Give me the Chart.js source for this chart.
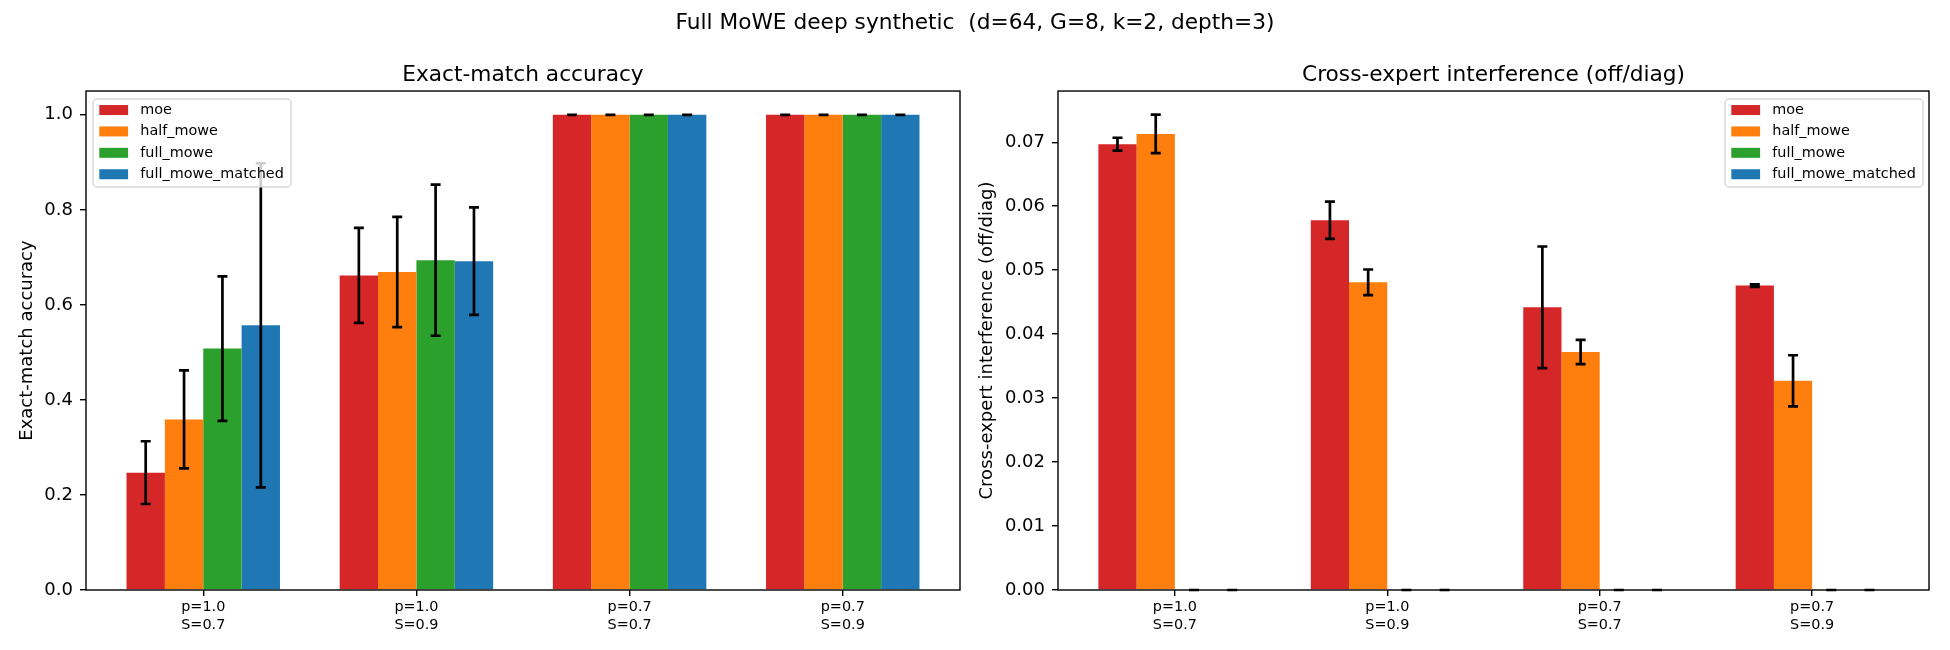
<!DOCTYPE html>
<html>
<head>
<meta charset="utf-8">
<script src="https://cdn.jsdelivr.net/npm/chart.js@4.4.0/dist/chart.umd.min.js"></script>
<style>
  body { margin: 0; background: #fff; width: 1950px; height: 650px; overflow: hidden; position: relative; font-family: "DejaVu Sans"; }
  #sup { position: absolute; left: 0; top: 9px; width: 1950px; text-align: center; font-size: 21.7px; line-height: 26px; color: #000; z-index: 2; }
  #c1 { position: absolute; left: 0; top: 0; }
  #c2 { position: absolute; left: 970px; top: 0; }
</style>
</head>
<body>
<div id="sup">Full MoWE deep synthetic&nbsp; (d=64, G=8, k=2, depth=3)</div>
<canvas id="c1" width="970" height="650"></canvas>
<canvas id="c2" width="980" height="650"></canvas>
<script>
// groups on the x axis (two-line tick labels)
const groups = [['p=1.0', 'S=0.7'], ['p=1.0', 'S=0.9'], ['p=0.7', 'S=0.7'], ['p=0.7', 'S=0.9']];
const methods = ['moe', 'half_mowe', 'full_mowe', 'full_mowe_matched'];
const colors = ['#d62728', '#ff7f0e', '#2ca02c', '#1f77b4'];

// exact-match accuracy: mean and std
const accMoe = [0.247, 0.662, 1.0, 1.0];
const accHalf = [0.359, 0.669, 1.0, 1.0];
const accFull = [0.508, 0.694, 1.0, 1.0];
const accMatched = [0.557, 0.692, 1.0, 1.0];
const accMoeErr = [0.066, 0.100, 0, 0];
const accHalfErr = [0.103, 0.116, 0, 0];
const accFullErr = [0.152, 0.159, 0, 0];
const accMatchedErr = [0.341, 0.113, 0, 0];

// cross-expert interference: mean and std
const intMoe = [0.0697, 0.0578, 0.0442, 0.0476];
const intHalf = [0.0713, 0.0481, 0.0372, 0.0327];
const intFull = [0, 0, 0, 0];
const intMatched = [0, 0, 0, 0];
const intMoeErr = [0.0010, 0.0029, 0.0095, 0.0002];
const intHalfErr = [0.0030, 0.0020, 0.0019, 0.0040];
const intFullErr = [0, 0, 0, 0];
const intMatchedErr = [0, 0, 0, 0];

Chart.defaults.font.family = '"DejaVu Sans"';
Chart.defaults.color = '#000';

// black error bars with caps, drawn on top of the bars
const errorBars = {
  id: 'errorBars',
  afterDatasetsDraw(chart) {
    const ctx = chart.ctx, y = chart.scales.y;
    ctx.save();
    ctx.strokeStyle = '#000';
    ctx.lineWidth = 2.7;
    chart.data.datasets.forEach((ds, i) => {
      chart.getDatasetMeta(i).data.forEach((bar, j) => {
        const v = ds.data[j].y, e = ds.errors[j];
        const top = y.getPixelForValue(v + e), bot = y.getPixelForValue(v - e);
        ctx.beginPath();
        ctx.moveTo(bar.x, top); ctx.lineTo(bar.x, bot);
        ctx.moveTo(bar.x - 5, top); ctx.lineTo(bar.x + 5, top);
        ctx.moveTo(bar.x - 5, bot); ctx.lineTo(bar.x + 5, bot);
        ctx.stroke();
      });
    });
    // axes frame
    const a = chart.chartArea;
    ctx.lineWidth = 1.4;
    ctx.strokeRect(a.left, a.top, a.right - a.left, a.bottom - a.top);
    ctx.restore();
  }
};

// matplotlib-like legend box inside the axes
const boxLegend = {
  id: 'boxLegend',
  afterDraw(chart, args, opts) {
    const ctx = chart.ctx, a = chart.chartArea;
    const w = 198, h = 88;
    const x0 = opts.side === 'left' ? a.left + 7 : a.right - 6 - w;
    const y0 = a.top + 8;
    ctx.save();
    ctx.beginPath();
    ctx.roundRect(x0, y0, w, h, 4);
    ctx.fillStyle = 'rgba(255,255,255,0.8)';
    ctx.fill();
    ctx.strokeStyle = 'rgba(204,204,204,0.8)';
    ctx.lineWidth = 1.4;
    ctx.stroke();
    ctx.font = '14.4px "DejaVu Sans"';
    ctx.textBaseline = 'middle';
    chart.data.datasets.forEach((ds, i) => {
      const cy = y0 + 11 + i * 21.4;
      ctx.fillStyle = ds.backgroundColor;
      ctx.fillRect(x0 + 6.3, cy - 5, 28.8, 10);
      ctx.fillStyle = '#000';
      ctx.fillText(ds.label, x0 + 47.3, cy);
    });
    ctx.restore();
  }
};

function makeChart(id, title, yTitle, series, errs, yMax, step, dec, side, padL, yW, padR) {
  return new Chart(document.getElementById(id), {
    type: 'bar',
    data: {
      datasets: series.map((vals, k) => ({
        label: methods[k],
        data: vals.map((v, i) => ({ x: i, y: v })),
        errors: errs[k],
        backgroundColor: colors[k],
        borderWidth: 0,
        categoryPercentage: 0.72,
        barPercentage: 1.0
      }))
    },
    options: {
      responsive: false,
      animation: false,
      layout: { padding: { left: padL, right: padR, top: 0, bottom: 0 } },
      plugins: {
        legend: { display: false },
        tooltip: { enabled: false },
        title: {
          display: true, text: title, fullSize: false,
          font: { size: 21.7, weight: 'normal', lineHeight: 1.2 },
          padding: { top: 62, bottom: 3 }
        },
        boxLegend: { side: side }
      },
      scales: {
        x: {
          type: 'linear', min: -0.55, max: 3.55, offset: false,
          grid: { offset: false, drawOnChartArea: false, color: '#000', lineWidth: 1.4, tickLength: 6 },
          border: { display: false },
          afterBuildTicks: s => { s.ticks = groups.map((g, i) => ({ value: i })); },
          afterFit: s => { s.height = 60; },
          ticks: {
            autoSkip: false, maxRotation: 0, padding: 3,
            font: { size: 14.4 },
            callback: v => groups[v]
          }
        },
        y: {
          min: 0, max: yMax,
          grid: { drawOnChartArea: false, color: '#000', lineWidth: 1.4, tickLength: 6 },
          border: { display: false },
          afterFit: s => { s.width = yW; },
          title: { display: true, text: yTitle, font: { size: 18 }, padding: { top: 4, bottom: 4 } },
          ticks: {
            stepSize: step, includeBounds: false, padding: 7,
            font: { size: 18 },
            callback: v => Number(v).toFixed(dec)
          }
        }
      }
    },
    plugins: [errorBars, boxLegend]
  });
}

makeChart('c1', 'Exact-match accuracy', 'Exact-match accuracy',
  [accMoe, accHalf, accFull, accMatched],
  [accMoeErr, accHalfErr, accFullErr, accMatchedErr],
  1.05, 0.2, 1, 'left', 12.2, 73.8, 10);

makeChart('c2', 'Cross-expert interference (off/diag)', 'Cross-expert interference (off/diag)',
  [intMoe, intHalf, intFull, intMatched],
  [intMoeErr, intHalfErr, intFullErr, intMatchedErr],
  0.078, 0.01, 2, 'right', 2.2, 85.8, 21);
</script>
</body>
</html>
